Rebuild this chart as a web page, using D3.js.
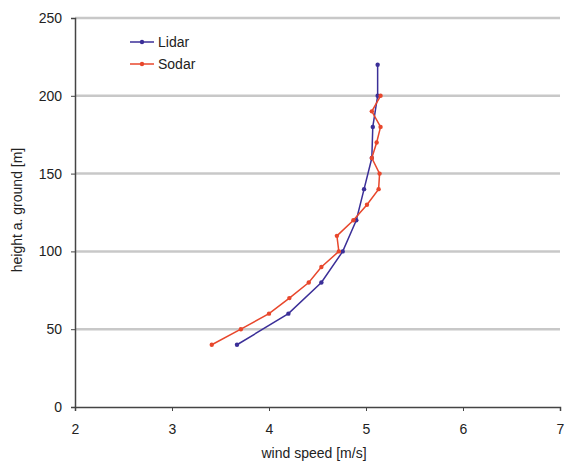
<!DOCTYPE html>
<html><head><meta charset="utf-8">
<script src="https://cdn.jsdelivr.net/npm/d3@7"></script>
<style>body{margin:0;background:#fff;} text{font-family:"Liberation Sans",Arial,sans-serif;fill:#222;}</style>
</head><body><svg id="c" width="569" height="466"></svg>
<script>
const lidarHeights = [40, 60, 80, 100, 120, 140, 160, 180, 200, 220];
const lidarSpeeds  = [3.67, 4.20, 4.54, 4.76, 4.90, 4.98, 5.06, 5.07, 5.12, 5.12];
const sodarHeights = [40, 50, 60, 70, 80, 90, 100, 110, 120, 130, 140, 150, 160, 170, 180, 190, 200];
const sodarSpeeds  = [3.41, 3.71, 4.00, 4.21, 4.41, 4.54, 4.72, 4.70, 4.87, 5.01, 5.13, 5.14, 5.06, 5.11, 5.15, 5.06, 5.15];
const xTicks = [2, 3, 4, 5, 6, 7];
const yTicks = [0, 50, 100, 150, 200, 250];
const seriesNames = ["Lidar", "Sodar"];

const svg = d3.select("#c");
const x = d3.scaleLinear().domain([2, 7]).range([75, 560]);
const y = d3.scaleLinear().domain([0, 250]).range([407, 18]);

// gridlines
svg.append("g").selectAll("line").data(yTicks.filter(d => d > 0)).join("line")
  .attr("x1", x(2)).attr("x2", x(7)).attr("y1", d => y(d)).attr("y2", d => y(d))
  .attr("stroke", "#c8c8c8").attr("stroke-width", 2.5);

const xAxis = svg.append("g").attr("transform", `translate(0,${y(0)})`)
  .call(d3.axisBottom(x).tickValues(xTicks).tickSize(4).tickPadding(13).tickFormat(d3.format("d")));
const yAxis = svg.append("g").attr("transform", `translate(${x(2)},0)`)
  .call(d3.axisLeft(y).tickValues(yTicks).tickSize(4).tickPadding(9).tickFormat(d3.format("d")));
[xAxis, yAxis].forEach(a => {
  a.select(".domain").attr("stroke", "#444").attr("stroke-width", 1.5);
  a.selectAll(".tick line").attr("stroke", "#444");
  a.selectAll(".tick text").style("font-size", "14px").attr("fill", "#222");
});

svg.append("text").attr("x", 314).attr("y", 458).attr("text-anchor", "middle")
  .style("font-size", "14px").text("wind speed [m/s]");
svg.append("text").attr("transform", "translate(22,210) rotate(-90)").attr("text-anchor", "middle")
  .style("font-size", "14px").text("height a. ground [m]");

const series = [
  {name: seriesNames[0], xs: lidarSpeeds, ys: lidarHeights, color: "#3b2f98"},
  {name: seriesNames[1], xs: sodarSpeeds, ys: sodarHeights, color: "#e8472c"}
];
const line = d3.line().x(d => x(d[0])).y(d => y(d[1]));
series.forEach(s => {
  const pts = s.xs.map((v, i) => [v, s.ys[i]]);
  svg.append("path").datum(pts).attr("d", line).attr("fill", "none")
    .attr("stroke", s.color).attr("stroke-width", 1.5);
  svg.append("g").selectAll("circle").data(pts).join("circle")
    .attr("cx", d => x(d[0])).attr("cy", d => y(d[1])).attr("r", 2.2).attr("fill", s.color);
});

// legend
const lg = svg.append("g");
series.forEach((s, i) => {
  const ly = 42 + i * 22;
  lg.append("line").attr("x1", 130).attr("x2", 154).attr("y1", ly).attr("y2", ly)
    .attr("stroke", s.color).attr("stroke-width", 1.5);
  lg.append("circle").attr("cx", 142).attr("cy", ly).attr("r", 2.2).attr("fill", s.color);
  lg.append("text").attr("x", 158).attr("y", ly + 5).style("font-size", "14px").text(s.name);
});
</script></body></html>
